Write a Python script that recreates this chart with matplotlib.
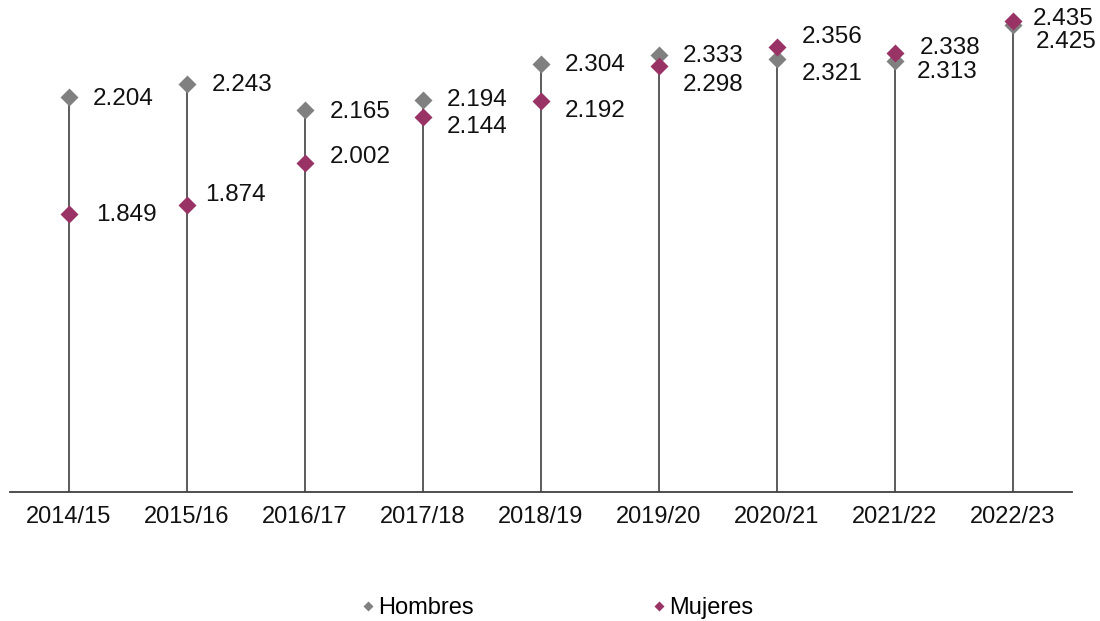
import matplotlib
matplotlib.use('Agg')
import matplotlib.pyplot as plt
import numpy as np

plt.rcParams['font.family'] = ['Liberation Sans', 'DejaVu Sans']

# data
periodos = ['2014/15', '2015/16', '2016/17', '2017/18', '2018/19',
            '2019/20', '2020/21', '2021/22', '2022/23']
hombres = [2204, 2243, 2165, 2194, 2304, 2333, 2321, 2313, 2425]
mujeres = [1849, 1874, 2002, 2144, 2192, 2298, 2356, 2338, 2435]

# label offsets (pixels, dx right / dy up) to avoid overlaps
off_h = [(24, -2), (25, -1), (25, -2), (24, 0), (24, -1), (24, -1), (25, -15), (22, -11), (23, -17)]
off_m = [(27, -1), (18, 10), (25, 6), (24, -10), (24, -10), (24, -19), (25, 10), (25, 5), (20, 2)]

col_h = '#808080'
col_m = '#993366'


def fmt(v):
    return f'{v:,}'.replace(',', '.')


fig = plt.figure(figsize=(11, 6.21), dpi=100)
ax = fig.add_axes([10 / 1100, 1 - 492 / 621, 1062 / 1100, 492 / 621])

x = np.arange(len(periodos))
ax.vlines(x, 1000, np.maximum(hombres, mujeres), color='#404040', lw=1.2, zorder=1)
ax.plot(x, hombres, 'D', color=col_h, ms=9, mec='none', ls='none', label='Hombres', zorder=3)
ax.plot(x, mujeres, 'D', color=col_m, ms=9, mec='none', ls='none', label='Mujeres', zorder=4)

for i in range(len(x)):
    ax.annotate(fmt(hombres[i]), (x[i], hombres[i]), xytext=off_h[i],
                textcoords='offset pixels', ha='left', va='center', fontsize=17.5, color='#111111')
    ax.annotate(fmt(mujeres[i]), (x[i], mujeres[i]), xytext=off_m[i],
                textcoords='offset pixels', ha='left', va='center', fontsize=17.5, color='#111111')

ax.set_xlim(-0.5, len(x) - 0.5)
ax.set_ylim(1000, 2500)
ax.set_xticks(x)
ax.set_xticklabels(periodos, fontsize=17, color='#111111')
ax.tick_params(axis='x', length=0, pad=10)
ax.set_yticks([])
for s in ['top', 'right', 'left']:
    ax.spines[s].set_visible(False)
ax.spines['bottom'].set_color('#404040')
ax.spines['bottom'].set_linewidth(1.3)

fig.legend(loc='center', bbox_to_anchor=(0.5055, 1 - 608 / 621), ncol=2, frameon=False,
           fontsize=17, handlelength=0.76, handletextpad=0.05, columnspacing=7.45,
           markerscale=0.6)

fig.savefig('out.png', dpi=100)
